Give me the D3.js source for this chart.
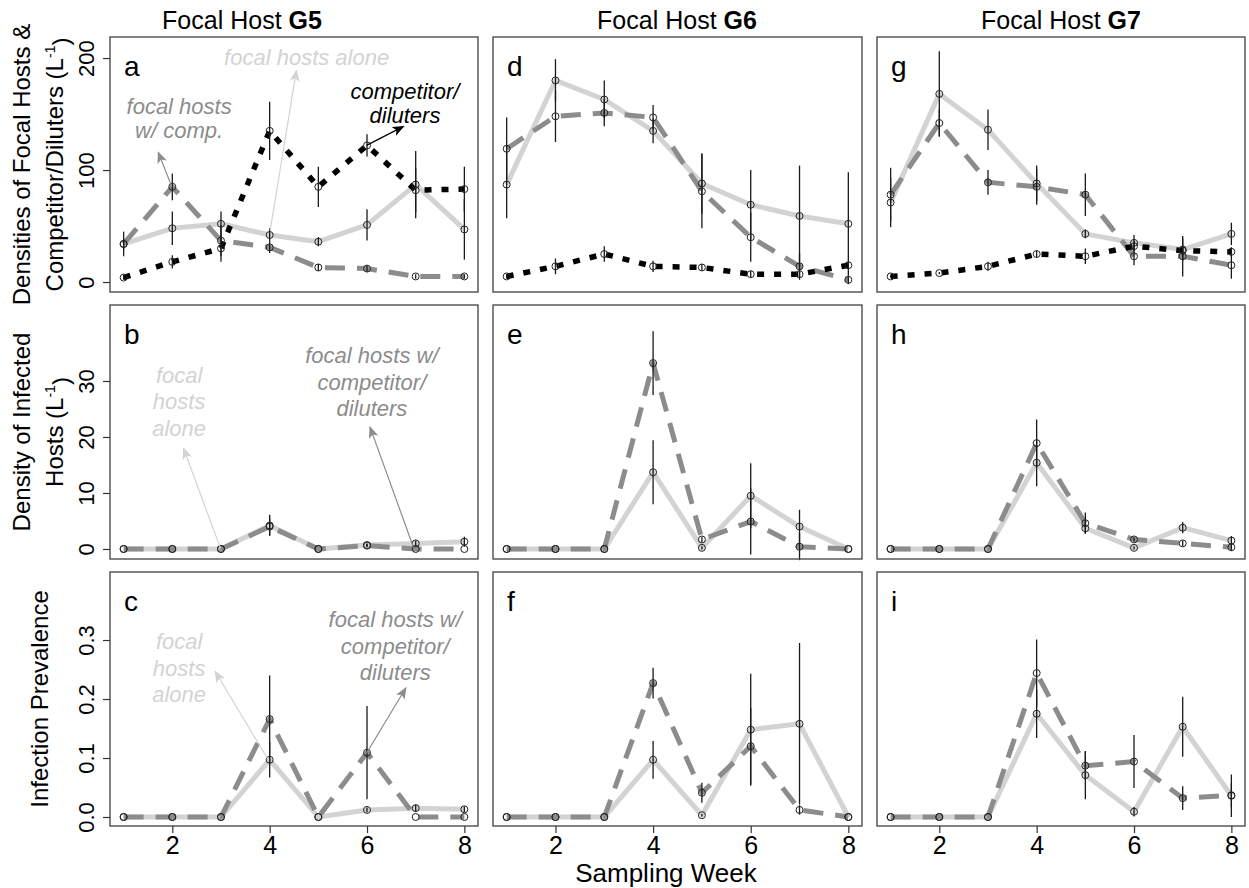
<!DOCTYPE html>
<html>
<head>
<meta charset="utf-8">
<script src="https://cdn.jsdelivr.net/npm/d3@7"></script>
<style>
  body { margin: 0; background: #fff; }
  svg { display: block; font-family: "Liberation Sans", Arial, Helvetica, sans-serif; }
</style>
</head>
<body>
<div id="chart"></div>
<script>
// sampling weeks and tick labels
const weeks = [1, 2, 3, 4, 5, 6, 7, 8];
const weekTicks = [2, 4, 6, 8];
const hosts = ["G5", "G6", "G7"];
const letters = [["a", "b", "c"], ["d", "e", "f"], ["g", "h", "i"]];
const densTicks = [0, 100, 200];
const infTicks = [0, 10, 20, 30];
const prevTicks = [0, 0.1, 0.2, 0.3];

// densities of focal hosts & competitor/diluters (L-1), mean and SE
const g5DensAlone   = [34, 48, 52, 42, 36, 51, 87, 47];
const g5DensAloneSE = [11, 15, 11, 6, 4, 14, 30, 27];
const g5DensComp    = [34, 85, 37, 31, 13, 12, 5, 5];
const g5DensCompSE  = [5, 12, 14, 5, 3, 3, 2, 2];
const g5Dil         = [4, 18, 30, 135, 85, 122, 82, 83];
const g5DilSE       = [2, 6, 12, 26, 18, 10, 20, 20];

const g6DensAlone   = [87, 180, 163, 135, 88, 69, 59, 52];
const g6DensAloneSE = [30, 19, 17, 11, 27, 31, 45, 46];
const g6DensComp    = [119, 148, 151, 147, 81, 40, 14, 2];
const g6DensCompSE  = [28, 23, 12, 11, 33, 22, 12, 4];
const g6Dil         = [5, 14, 25, 14, 13, 7, 7, 15];
const g6DilSE       = [2, 7, 7, 5, 3, 3, 3, 3];

const g7DensAlone   = [71, 168, 136, 88, 43, 35, 29, 43];
const g7DensAloneSE = [22, 38, 18, 16, 4, 7, 10, 10];
const g7DensComp    = [78, 142, 89, 85, 78, 23, 23, 15];
const g7DensCompSE  = [24, 12, 11, 16, 19, 8, 18, 12];
const g7Dil         = [5, 8, 14, 25, 23, 32, 28, 27];
const g7DilSE       = [1, 1, 4, 3, 7, 5, 4, 4];

// density of infected hosts (L-1)
const g5InfAlone   = [0, 0, 0, 4.2, 0, 0.7, 1.0, 1.3];
const g5InfAloneSE = [0, 0, 0, 1.9, 0, 0.3, 0.5, 0.9];
const g5InfComp    = [0, 0, 0, 4.0, 0, 0.6, 0, 0];
const g5InfCompSE  = [0, 0, 0, 1.5, 0, 0.3, 0, 0];

const g6InfAlone   = [0, 0, 0, 13.7, 0.2, 9.5, 4.0, 0];
const g6InfAloneSE = [0, 0, 0, 5.7, 0.3, 5.8, 3.0, 0];
const g6InfComp    = [0, 0, 0, 33.2, 1.7, 4.9, 0.4, 0];
const g6InfCompSE  = [0, 0, 0, 5.7, 0.5, 5.9, 2.4, 0];

const g7InfAlone   = [0, 0, 0, 15.4, 3.7, 0.2, 3.8, 1.5];
const g7InfAloneSE = [0, 0, 0, 4.2, 1.0, 0.3, 1.0, 0.8];
const g7InfComp    = [0, 0, 0, 18.9, 4.6, 1.7, 1.0, 0.3];
const g7InfCompSE  = [0, 0, 0, 4.2, 1.9, 0.4, 0.5, 0.6];

// infection prevalence
const g5PrevAlone   = [0, 0, 0, 0.097, 0, 0.012, 0.015, 0.013];
const g5PrevAloneSE = [0, 0, 0, 0.030, 0, 0.004, 0.006, 0.005];
const g5PrevComp    = [0, 0, 0, 0.166, 0, 0.109, 0, 0];
const g5PrevCompSE  = [0, 0, 0, 0.074, 0, 0.079, 0, 0];

const g6PrevAlone   = [0, 0, 0, 0.097, 0.003, 0.148, 0.158, 0];
const g6PrevAloneSE = [0, 0, 0, 0.032, 0.002, 0.095, 0.137, 0];
const g6PrevComp    = [0, 0, 0, 0.227, 0.041, 0.120, 0.012, 0];
const g6PrevCompSE  = [0, 0, 0, 0.026, 0.017, 0.065, 0.008, 0];

const g7PrevAlone   = [0, 0, 0, 0.175, 0.071, 0.009, 0.153, 0.036];
const g7PrevAloneSE = [0, 0, 0, 0.041, 0.041, 0.008, 0.051, 0.036];
const g7PrevComp    = [0, 0, 0, 0.244, 0.087, 0.094, 0.032, 0.037];
const g7PrevCompSE  = [0, 0, 0, 0.057, 0.024, 0.045, 0.020, 0.020];

// panels [column][row]
const panels = [
  [
    [["alone", g5DensAlone, g5DensAloneSE], ["comp", g5DensComp, g5DensCompSE], ["dil", g5Dil, g5DilSE]],
    [["alone", g5InfAlone, g5InfAloneSE], ["comp", g5InfComp, g5InfCompSE]],
    [["alone", g5PrevAlone, g5PrevAloneSE], ["comp", g5PrevComp, g5PrevCompSE]]
  ],
  [
    [["alone", g6DensAlone, g6DensAloneSE], ["comp", g6DensComp, g6DensCompSE], ["dil", g6Dil, g6DilSE]],
    [["alone", g6InfAlone, g6InfAloneSE], ["comp", g6InfComp, g6InfCompSE]],
    [["alone", g6PrevAlone, g6PrevAloneSE], ["comp", g6PrevComp, g6PrevCompSE]]
  ],
  [
    [["alone", g7DensAlone, g7DensAloneSE], ["comp", g7DensComp, g7DensCompSE], ["dil", g7Dil, g7DilSE]],
    [["alone", g7InfAlone, g7InfAloneSE], ["comp", g7InfComp, g7InfCompSE]],
    [["alone", g7PrevAlone, g7PrevAloneSE], ["comp", g7PrevComp, g7PrevCompSE]]
  ]
];

// labels placed in data units of the first column (week, value)
const notes = [
  { row: 0, kind: "alone", lines: ["focal hosts alone"], x: 4.76, y: 201, lh: 24 },
  { row: 0, kind: "comp", lines: ["focal hosts", "w/ comp."], x: 2.14, y: 157, lh: 24 },
  { row: 0, kind: "dil", lines: ["competitor/", "diluters"], x: 6.78, y: 170, lh: 24 },
  { row: 1, kind: "alone", lines: ["focal", "hosts", "alone"], x: 2.14, y: 31.1, lh: 26.6 },
  { row: 1, kind: "comp", lines: ["focal hosts w/", "competitor/", "diluters"], x: 6.10, y: 34.6, lh: 26.6 },
  { row: 2, kind: "alone", lines: ["focal", "hosts", "alone"], x: 2.14, y: 0.298, lh: 26.6 },
  { row: 2, kind: "comp", lines: ["focal hosts w/", "competitor/", "diluters"], x: 6.58, y: 0.335, lh: 26.6 }
];
const arrows = [
  { row: 0, kind: "alone", from: [4.01, 46], to: [4.55, 189] },
  { row: 0, kind: "comp", from: [1.99, 85], to: [1.71, 116] },
  { row: 0, kind: "dil", from: [5.99, 122], to: [6.75, 139] },
  { row: 1, kind: "alone", from: [2.99, 0.1], to: [2.23, 18] },
  { row: 1, kind: "comp", from: [6.95, 0.4], to: [6.06, 21.8] },
  { row: 2, kind: "alone", from: [3.97, 0.097], to: [2.88, 0.247] },
  { row: 2, kind: "comp", from: [5.99, 0.108], to: [6.80, 0.219] }
];

// ---- layout ----
const width = 1249, height = 888;
const colX = [[110, 478], [493, 862], [877, 1245]];
const rowY = [[37, 292], [305, 559], [572, 826]];
const rowDomains = [[-8.9, 218.8], [-1.79, 43.57], [-0.01525, 0.4153]];
const rowTickVals = [densTicks, infTicks, prevTicks];
const rowTickFmt = [d3.format("d"), d3.format("d"), d3.format(".1f")];
const titleX = [242, 677, 1061];

const style = {
  alone: { stroke: "#d3d3d3", width: 5, dash: null, text: "#d3d3d3" },
  comp:  { stroke: "#8c8c8c", width: 5, dash: "20,12", text: "#8c8c8c" },
  dil:   { stroke: "#000000", width: 5.5, dash: "7,10", text: "#000000" }
};

const svg = d3.select("#chart").append("svg")
    .attr("width", width)
    .attr("height", height);

const defs = svg.append("defs");
Object.keys(style).forEach(k => {
  defs.append("marker")
      .attr("id", "head-" + k)
      .attr("viewBox", "0 0 12 10")
      .attr("refX", 11).attr("refY", 5)
      .attr("markerWidth", 12).attr("markerHeight", 10)
      .attr("markerUnits", "userSpaceOnUse")
      .attr("orient", "auto")
    .append("path")
      .attr("d", "M0,0 L12,5 L0,10 L3,5 Z")
      .attr("fill", style[k].stroke);
});

const xScales = colX.map(c => d3.scaleLinear().domain([0.72, 8.28]).range(c));
const yScales = rowY.map((r, i) => d3.scaleLinear().domain(rowDomains[i]).range([r[1], r[0]]));

panels.forEach((col, ci) => {
  const x = xScales[ci];
  col.forEach((series, ri) => {
    const y = yScales[ri];
    const g = svg.append("g").attr("class", "panel");

    const line = d3.line().x((d, i) => x(weeks[i])).y(d => y(d));

    // lines
    series.forEach(([kind, vals]) => {
      g.append("path")
          .datum(vals)
          .attr("fill", "none")
          .attr("stroke", style[kind].stroke)
          .attr("stroke-width", style[kind].width)
          .attr("stroke-dasharray", style[kind].dash)
          .attr("stroke-linejoin", "round")
          .attr("d", line);
    });

    // error bars
    series.forEach(([kind, vals, se]) => {
      g.selectAll(null).data(vals).enter().append("line")
          .attr("x1", (d, i) => x(weeks[i]))
          .attr("x2", (d, i) => x(weeks[i]))
          .attr("y1", (d, i) => y(d - se[i]))
          .attr("y2", (d, i) => y(d + se[i]))
          .attr("stroke", "#1a1a1a")
          .attr("stroke-width", 1.3);
    });

    // points
    series.forEach(([kind, vals]) => {
      g.selectAll(null).data(vals).enter().append("circle")
          .attr("cx", (d, i) => x(weeks[i]))
          .attr("cy", d => y(d))
          .attr("r", 3.5)
          .attr("fill", "none")
          .attr("stroke", "#222")
          .attr("stroke-width", 1);
    });

    // box
    g.append("rect")
        .attr("x", colX[ci][0]).attr("y", rowY[ri][0])
        .attr("width", colX[ci][1] - colX[ci][0])
        .attr("height", rowY[ri][1] - rowY[ri][0])
        .attr("fill", "none")
        .attr("stroke", "#4d4d4d")
        .attr("stroke-width", 1.4);

    // panel letter
    g.append("text")
        .attr("x", colX[ci][0] + 14)
        .attr("y", rowY[ri][0] + 39)
        .attr("font-size", 28)
        .attr("fill", "#000")
        .text(letters[ci][ri]);

    // y axis on first column
    if (ci === 0) {
      const ax = g.append("g")
          .attr("transform", "translate(" + colX[0][0] + ",0)")
          .call(d3.axisLeft(y).tickValues(rowTickVals[ri]).tickFormat(rowTickFmt[ri]).tickSize(7).tickPadding(10));
      ax.select(".domain").remove();
      ax.selectAll(".tick line").attr("stroke", "#333").attr("stroke-width", 1.2);
      ax.selectAll(".tick text")
          .attr("font-size", 22)
          .attr("fill", "#000")
          .attr("font-family", null)
          .attr("text-anchor", "middle")
          .attr("transform", "rotate(-90)")
          .attr("x", 0).attr("dy", null)
          .attr("y", -16);
    }

    // x axis on last row
    if (ri === 2) {
      const ax = g.append("g")
          .attr("transform", "translate(0," + rowY[2][1] + ")")
          .call(d3.axisBottom(x).tickValues(weekTicks).tickSize(7).tickPadding(3));
      ax.select(".domain").remove();
      ax.selectAll(".tick line").attr("stroke", "#333").attr("stroke-width", 1.2);
      ax.selectAll(".tick text")
          .attr("font-size", 25)
          .attr("font-family", null)
          .attr("fill", "#000");
    }
  });

  // column title
  const t = svg.append("text")
      .attr("x", titleX[ci]).attr("y", 29)
      .attr("text-anchor", "middle")
      .attr("font-size", 25)
      .attr("fill", "#000");
  t.append("tspan").text("Focal Host ");
  t.append("tspan").attr("font-weight", "bold").text(hosts[ci]);
});

// annotations in first column
notes.forEach(n => {
  const x = xScales[0], y = yScales[n.row];
  const t = svg.append("text")
      .attr("text-anchor", "middle")
      .attr("font-size", 22)
      .attr("font-style", "italic")
      .attr("fill", style[n.kind].text);
  n.lines.forEach((s, i) => {
    t.append("tspan")
        .attr("x", x(n.x))
        .attr("y", y(n.y) + i * n.lh)
        .attr("dy", "0.35em")
        .text(s);
  });
});
arrows.forEach(a => {
  const x = xScales[0], y = yScales[a.row];
  svg.append("line")
      .attr("x1", x(a.from[0])).attr("y1", y(a.from[1]))
      .attr("x2", x(a.to[0])).attr("y2", y(a.to[1]))
      .attr("stroke", style[a.kind].stroke)
      .attr("stroke-width", 1.2)
      .attr("marker-end", "url(#head-" + a.kind + ")");
});

// axis titles
function yTitle(lines, cy) {
  lines.forEach(ln => {
    const t = svg.append("text")
        .attr("transform", "translate(" + ln.x + "," + cy + ") rotate(-90)")
        .attr("text-anchor", "middle")
        .attr("dy", "0.35em")
        .attr("font-size", 24)
        .attr("fill", "#000");
    t.append("tspan").text(ln.text);
    if (ln.sup) {
      t.append("tspan").text("(L");
      t.append("tspan").attr("font-size", 14).attr("dy", "-0.6em").text("-1");
      t.append("tspan").attr("dy", "0.6em").text(")");
    }
  });
}
yTitle([{ text: "Densities of Focal Hosts &", x: 22 }, { text: "Competitor/Diluters ", x: 55, sup: true }], (rowY[0][0] + rowY[0][1]) / 2);
yTitle([{ text: "Density of Infected", x: 22 }, { text: "Hosts ", x: 55, sup: true }], (rowY[1][0] + rowY[1][1]) / 2);
yTitle([{ text: "Infection Prevalence", x: 40 }], (rowY[2][0] + rowY[2][1]) / 2);

svg.append("text")
    .attr("x", 666).attr("y", 882)
    .attr("text-anchor", "middle")
    .attr("font-size", 26)
    .attr("fill", "#000")
    .text("Sampling Week");
</script>
</body>
</html>
